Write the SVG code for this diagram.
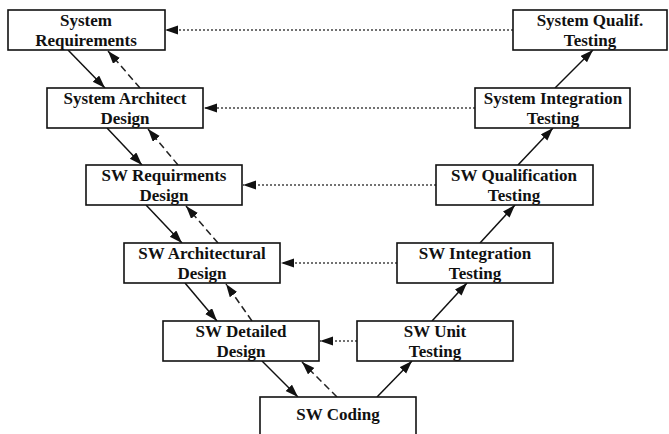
<svg xmlns="http://www.w3.org/2000/svg" width="669" height="434" viewBox="0 0 669 434">
<style>
.box{fill:#fff;stroke:#111;stroke-width:1.6}
.t{font-family:"Liberation Serif","Times New Roman",serif;font-weight:bold;font-size:17px;fill:#111;text-anchor:middle}
.solid{stroke:#111;stroke-width:1.5;fill:none}
.dash{stroke:#222;stroke-width:1.5;fill:none;stroke-dasharray:7 4}
.dot{stroke:#444;stroke-width:1.3;fill:none;stroke-dasharray:2 2}
</style>
<defs>
<marker id="ah" markerUnits="userSpaceOnUse" markerWidth="14" markerHeight="10" refX="13" refY="4.5" orient="auto">
<path d="M0,0 L13,4.5 L0,9 z" fill="#111"/>
</marker>
</defs>
<rect width="669" height="434" fill="#fff"/>
<g id="connectors">
<line class="solid" x1="68" y1="50" x2="105" y2="88" marker-end="url(#ah)"/>
<line class="solid" x1="107" y1="128" x2="142" y2="165" marker-end="url(#ah)"/>
<line class="solid" x1="146" y1="205" x2="182" y2="243" marker-end="url(#ah)"/>
<line class="solid" x1="185" y1="283" x2="217" y2="321" marker-end="url(#ah)"/>
<line class="solid" x1="262" y1="361" x2="298" y2="397" marker-end="url(#ah)"/>
<line class="dash" x1="140" y1="88" x2="108" y2="51" marker-end="url(#ah)"/>
<line class="dash" x1="178" y1="165" x2="148" y2="129" marker-end="url(#ah)"/>
<line class="dash" x1="218" y1="243" x2="186" y2="206" marker-end="url(#ah)"/>
<line class="dash" x1="252" y1="321" x2="226" y2="284" marker-end="url(#ah)"/>
<line class="dash" x1="337" y1="397" x2="302" y2="362" marker-end="url(#ah)"/>
<line class="solid" x1="377" y1="397" x2="412" y2="361" marker-end="url(#ah)"/>
<line class="solid" x1="432" y1="321" x2="467" y2="283" marker-end="url(#ah)"/>
<line class="solid" x1="480" y1="243" x2="515" y2="205" marker-end="url(#ah)"/>
<line class="solid" x1="518" y1="165" x2="553" y2="128" marker-end="url(#ah)"/>
<line class="solid" x1="555" y1="88" x2="593" y2="50" marker-end="url(#ah)"/>
<line class="dot" x1="513" y1="30" x2="165" y2="30" marker-end="url(#ah)"/>
<line class="dot" x1="475" y1="108" x2="204" y2="108" marker-end="url(#ah)"/>
<line class="dot" x1="436" y1="185" x2="243" y2="185" marker-end="url(#ah)"/>
<line class="dot" x1="397" y1="263" x2="281" y2="263" marker-end="url(#ah)"/>
<line class="dot" x1="357" y1="341" x2="320" y2="341" marker-end="url(#ah)"/>
</g>
<g id="sys-req"><rect class="box" x="8" y="10" width="157" height="40"/><text class="t" x="86" y="26">System</text><text class="t" x="86" y="46">Requirements</text></g>
<g id="sys-arch"><rect class="box" x="47" y="88" width="156" height="40"/><text class="t" x="125" y="104">System Architect</text><text class="t" x="125" y="124">Design</text></g>
<g id="sw-req"><rect class="box" x="86" y="165" width="156" height="40"/><text class="t" x="164" y="181">SW Requirments</text><text class="t" x="164" y="201">Design</text></g>
<g id="sw-arch"><rect class="box" x="124" y="243" width="156" height="40"/><text class="t" x="202" y="259">SW Architectural</text><text class="t" x="202" y="279">Design</text></g>
<g id="sw-detail"><rect class="box" x="163" y="321" width="156" height="40"/><text class="t" x="241" y="337">SW Detailed</text><text class="t" x="241" y="357">Design</text></g>
<g id="sw-coding"><rect class="box" x="260" y="397" width="156" height="45"/><text class="t" x="338" y="420">SW Coding</text></g>
<g id="sw-unit"><rect class="box" x="357" y="321" width="156" height="40"/><text class="t" x="435" y="337">SW Unit</text><text class="t" x="435" y="357">Testing</text></g>
<g id="sw-int"><rect class="box" x="397" y="243" width="156" height="40"/><text class="t" x="475" y="259">SW Integration</text><text class="t" x="475" y="279">Testing</text></g>
<g id="sw-qual"><rect class="box" x="436" y="165" width="157" height="40"/><text class="t" x="514" y="181">SW Qualification</text><text class="t" x="514" y="201">Testing</text></g>
<g id="sys-int"><rect class="box" x="475" y="88" width="155" height="40"/><text class="t" x="553" y="104">System Integration</text><text class="t" x="553" y="124">Testing</text></g>
<g id="sys-qual"><rect class="box" x="513" y="10" width="154" height="40"/><text class="t" x="590" y="26">System Qualif.</text><text class="t" x="590" y="46">Testing</text></g>
</svg>
